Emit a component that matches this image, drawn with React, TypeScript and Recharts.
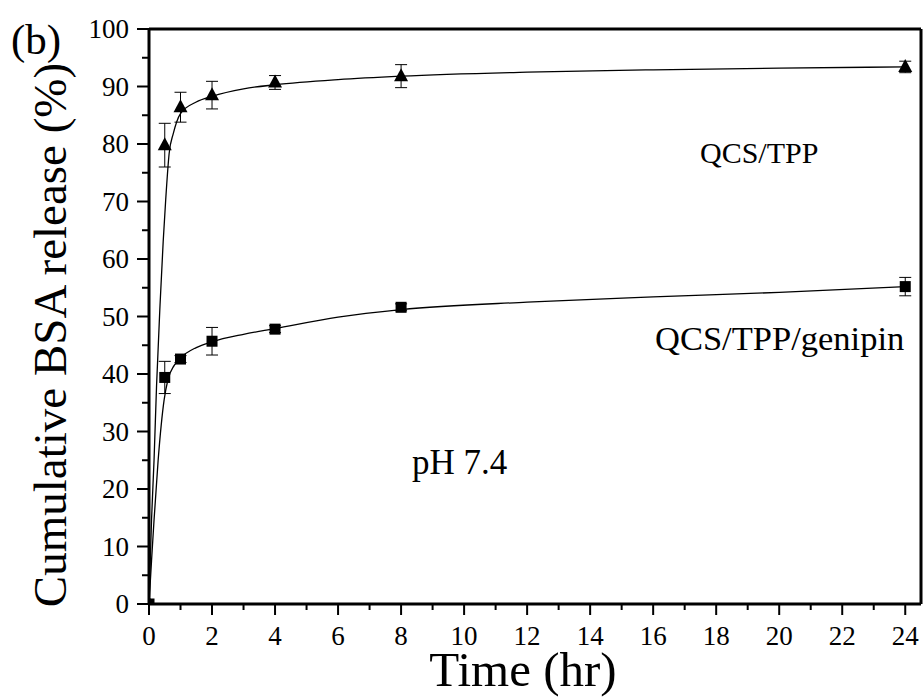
import React from 'react';
import { ComposedChart, XAxis, YAxis, Line, Scatter, ErrorBar, ReferenceLine } from 'recharts';

// Measured points
const timePoints = [0, 0.5, 1, 2, 4, 8, 24];
const tppRelease = [0, 79.8, 86.4, 88.5, 90.7, 91.8, 93.4];
const tppError = [0, 3.8, 2.6, 2.4, 1.2, 2.0, 1.0];
const genRelease = [0, 39.4, 42.6, 45.7, 47.8, 51.6, 55.2];
const genError = [0, 2.8, 0.6, 2.4, 0.6, 0.6, 1.6];

// Fitted curves
const tppFitTime = [0, 0.08, 0.16, 0.24, 0.35, 0.45, 0.53, 0.64, 0.77, 1, 1.5, 2, 3, 4, 6, 8, 12, 16, 20, 24];
const tppFit = [0, 14.6, 25, 38, 52, 63, 70.3, 78.4, 81.8, 85.3, 87.3, 88.3, 89.6, 90.3, 91.2, 91.8, 92.5, 92.9, 93.2, 93.4];
const genFitTime = [0, 0.08, 0.16, 0.29, 0.48, 0.6, 0.8, 1, 1.5, 2, 3, 4, 6, 8, 12, 16, 20, 24];
const genFit = [0, 7.5, 14.6, 25, 35.5, 39, 41.5, 42.8, 44.6, 45.6, 46.9, 47.9, 49.9, 51.2, 52.5, 53.4, 54.2, 55.2];

const xTicks = Array.from({ length: 25 }, (_, i) => i);
const yTicks = Array.from({ length: 21 }, (_, i) => i * 5);

const tppPoints = timePoints.map((t, i) => ({ t, v: tppRelease[i], e: tppError[i] }));
const genPoints = timePoints.map((t, i) => ({ t, v: genRelease[i], e: genError[i] }));
const tppCurve = tppFitTime.map((t, i) => ({ t, v: tppFit[i] }));
const genCurve = genFitTime.map((t, i) => ({ t, v: genFit[i] }));

const FONT = '"Liberation Serif", "Times New Roman", serif';

const XTick = (props: any) => {
  const { x, y, payload } = props;
  const v = payload.value;
  const major = v % 2 === 0;
  return (
    <g>
      <line x1={x} x2={x} y1={y} y2={y + (major ? 11 : 6)} stroke="#000" strokeWidth={2} />
      {major && (
        <text x={x} y={y + 41} textAnchor="middle" fontSize={27} fontFamily={FONT} fill="#000">
          {v}
        </text>
      )}
    </g>
  );
};

const YTick = (props: any) => {
  const { x, y, payload } = props;
  const v = payload.value;
  const major = v % 10 === 0;
  return (
    <g>
      <line x1={x} x2={x - (major ? 12 : 7)} y1={y} y2={y} stroke="#000" strokeWidth={2} />
      {major && (
        <text x={x - 20} y={y + 9} textAnchor="end" fontSize={27} fontFamily={FONT} fill="#000">
          {v}
        </text>
      )}
    </g>
  );
};

const Triangle = (props: any) => {
  const { cx, cy } = props;
  if (cx == null || cy == null) return null;
  return <polygon points={`${cx},${cy - 8} ${cx - 7},${cy + 5} ${cx + 7},${cy + 5}`} fill="#000" />;
};

const Square = (props: any) => {
  const { cx, cy } = props;
  if (cx == null || cy == null) return null;
  return <rect x={cx - 5.5} y={cy - 5.5} width={11} height={11} fill="#000" />;
};

export default function App() {
  return (
    <div style={{ position: 'absolute', left: 0, top: 0, width: 923, height: 697, background: '#fff' }}>
      <ComposedChart width={923} height={697} margin={{ top: 29, right: 2, left: 0, bottom: 0 }}>
        <XAxis
          type="number"
          dataKey="t"
          domain={[0, 24.5]}
          ticks={xTicks}
          interval={0}
          tick={<XTick />}
          tickLine={false}
          tickSize={0}
          tickMargin={0}
          height={93}
          axisLine={{ stroke: '#000', strokeWidth: 3 }}
          allowDataOverflow
        />
        <YAxis
          type="number"
          dataKey="v"
          domain={[0, 100]}
          ticks={yTicks}
          interval={0}
          tick={<YTick />}
          tickLine={false}
          tickSize={0}
          tickMargin={0}
          width={149}
          axisLine={{ stroke: '#000', strokeWidth: 3 }}
          allowDataOverflow
        />
        <ReferenceLine y={100} stroke="#000" strokeWidth={3} />
        <ReferenceLine x={24.5} stroke="#000" strokeWidth={3} />
        <Line data={tppCurve} dataKey="v" type="monotone" stroke="#000" strokeWidth={1.3} dot={false} isAnimationActive={false} />
        <Line data={genCurve} dataKey="v" type="monotone" stroke="#000" strokeWidth={1.3} dot={false} isAnimationActive={false} />
        <Scatter data={tppPoints} dataKey="v" shape={<Triangle />} isAnimationActive={false}>
          <ErrorBar dataKey="e" direction="y" width={6} stroke="#000" strokeWidth={1} />
        </Scatter>
        <Scatter data={genPoints} dataKey="v" shape={<Square />} isAnimationActive={false}>
          <ErrorBar dataKey="e" direction="y" width={6} stroke="#000" strokeWidth={1} />
        </Scatter>
      </ComposedChart>
      <svg width={923} height={697} style={{ position: 'absolute', left: 0, top: 0, pointerEvents: 'none' }}>
        <text x={11} y={54} fontSize={43} fontFamily={FONT} fill="#000">(b)</text>
        <text x={700} y={163} fontSize={30} fontFamily={FONT} fill="#000">QCS/TPP</text>
        <text x={655} y={350} fontSize={34.5} fontFamily={FONT} fill="#000">QCS/TPP/genipin</text>
        <text x={412} y={474} fontSize={35} fontFamily={FONT} fill="#000">pH 7.4</text>
        <text x={523} y={686} fontSize={49} fontFamily={FONT} fill="#000" textAnchor="middle">Time (hr)</text>
        <text
          x={0}
          y={0}
          fontSize={47}
          fontFamily={FONT}
          fill="#000"
          textAnchor="middle"
          transform="translate(66, 335) rotate(-90)"
        >
          Cumulative BSA release (%)
        </text>
      </svg>
    </div>
  );
}
